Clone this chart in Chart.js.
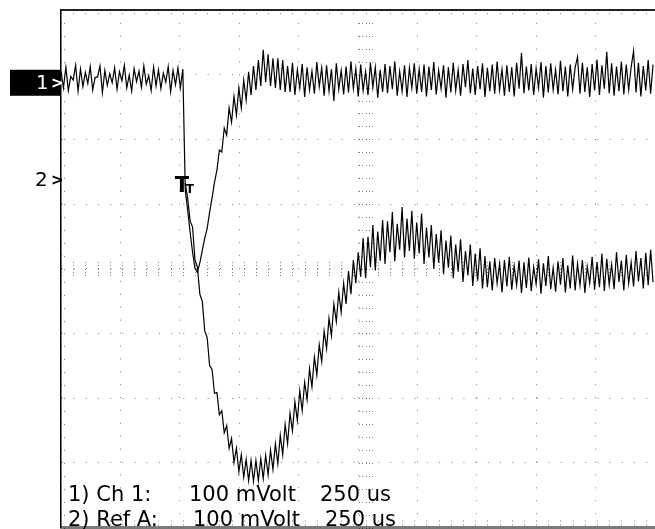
<!DOCTYPE html>
<html>
<head>
<meta charset="utf-8">
<script src="https://cdn.jsdelivr.net/npm/chart.js@4/dist/chart.umd.min.js"></script>
<style>
    html, body { margin: 0; padding: 0; background: #fff; }
    #scopeCanvas { display: block; }
</style>
</head>
<body>
<canvas id="scopeCanvas" width="655" height="529"></canvas>
<script>
// --------------------
// Data (250 us/div, 100 mV/div)
// --------------------
const sampleUs = 10;            // time between samples
const screenUs = 2438;          // visible part of the time base
const triggerUs = 500;
const triggerLevelMv = -140;    // on channel 1

// Channel 1, mV relative to its ground marker, one value per sample from the left edge
const ch1Mv = [
    18, -8, 24, -12, 10, 4, 27, -13, 21, -6,
    16, -1, 25, -11, 8, 9, 26, -15, 19, -4,
    14, 0, 23, -10, 17, 3, 27, -8, 12, -13,
    22, 2, 18, -7, 26, -2, 11, -12, 24, -5,
    20, -9, 15, 1, 25, -14, 19, -3, 23, -8,
    21,
    -166, -197, -231, -262, -287, -293, -278, -259, -240, -225,
    -200, -178, -154, -135, -104, -107, -70, -81, -39, -61,
    -21, -50, -8, -39, 4, -27, 17, -19, 26, -11,
    35, -5, 51, 1, 44, -5, 38, -8, 38, -11,
    35, -14,
    26, -14, 31, -19, 20, -8, 29, -22, 24, -11,
    18, -17, 32, -6, 23, -20, 27, -13, 21, -28,
    30, -10, 19, -18, 25, -15, 33, -9, 22, -21,
    28, -12, 17, -19, 31, -7, 24, -23, 20, -14,
    29, -16, 26, -10, 33, -20, 18, -13, 27, -22,
    23, -8, 30, -17, 21, -14, 28, -21, 25, -11,
    32, -18, 19, -9, 27, -23, 24, -15, 31, -12,
    20, -20, 29, -7, 35, -16, 22, -19, 26, -10,
    30, -22, 23, -13, 28, -17, 33, -11, 21, -20,
    27, -14, 24, -21, 31, -9, 46, -16, 25, -12,
    29, -19, 22, -8, 32, -23, 26, -15, 30, -11,
    20, -18, 34, -13, 25, -21, 28, -10, 23, 40,
    -17, 31, -14, 24, -22, 29, -12, 36, -19, 27,
    -9, 48, -16, 30, -20, 25, -13, 33, -18, 28,
    -11, 24, 49, -15, 31, -21, 26, -12, 35, -17,
    28
];

// Ref A, mV relative to its ground marker, starts at the trigger
const refAStartIndex = 51;
const refAMv = [
    -5, -29, -64, -73, -124, -135, -177, -188, -234, -244,
    -287, -293, -330, -329, -363, -357, -391, -380, -415, -400,
    -437, -415, -451, -425, -460, -432, -465, -434, -466, -434,
    -465, -431, -462, -426, -456, -418, -448, -408, -439, -395,
    -425, -378, -408, -361, -388, -343, -372, -326, -357, -313,
    -340, -292, -320, -274, -302, -255, -281, -234, -261, -214,
    -241, -192, -219, -174, -205, -160, -192, -141, -177, -124,
    -160, -112, -150, -90, -152, -88, -135, -70, -140, -80,
    -125, -62, -130, -64, -112, -50, -126, -68, -108, -42,
    -120, -60, -110, -48, -122, -66, -114, -52, -130, -74,
    -120, -70, -138, -84, -128, -78, -146, -94, -136, -86,
    -152, -100, -142, -92, -158, -110, -148, -100, -164, -114,
    -156, -106, -168,
    -118, -166, -126, -171, -121, -160, -130, -174, -124, -165,
    -119, -170, -133, -163, -125, -175, -128, -167, -120, -172,
    -135, -161, -123, -176, -129, -164, -118, -169, -136, -173,
    -126, -162, -121, -174, -132, -168, -117, -171, -130, -163,
    -124, -175, -134, -160, -119, -170, -127, -166, -114, -172,
    -122, -162, -131, -169, -112, -158, -125, -171, -116, -160,
    -128, -165, -110, -157, -121, -168, -113, -163, -108, -158
];

// Screen offsets of the two ground markers
const ch1OffsetMv = 287.5;
const refAOffsetMv = 137.5;

const infoLines = [
    ['1) Ch 1:', '100 mVolt', '250 us'],
    ['2) Ref A:', '100 mVolt', '250 us']
];

// --------------------
// Overlay plugin: graticule ticks, frame top, markers, readout
// --------------------
const scopeOverlay = {
    id: 'scopeOverlay',
    beforeDatasetsDraw(chart) {
        const { ctx, chartArea: a, scales } = chart;
        const xs = scales.x;
        const ys = scales.y;
        const cx = Math.round(xs.getPixelForValue(1250));
        const cy = Math.round(ys.getPixelForValue(0));

        ctx.save();
        ctx.fillStyle = 'rgba(0,0,0,0.5)';
        for (let t = 0; t <= screenUs; t += 50) {
            const px = Math.round(xs.getPixelForValue(t));
            [-7, -4, 0, 3, 6].forEach(d => ctx.fillRect(px, cy + d, 1, 1));
            ctx.fillRect(px, a.top + 3, 1, 1);
            ctx.fillRect(px, a.bottom - 7, 1, 1);
            ctx.fillRect(px, a.bottom - 3, 1, 1);
        }
        for (let v = -400; v <= 400; v += 20) {
            const py = Math.round(ys.getPixelForValue(v));
            [-7, -4, 0, 3, 6].forEach(d => ctx.fillRect(cx + d, py, 1, 1));
            ctx.fillRect(a.left + 3, py, 1, 1);
        }
        ctx.restore();
    },
    afterDraw(chart) {
        const { ctx, chartArea: a, scales } = chart;

        ctx.save();
        // top edge of the screen
        ctx.strokeStyle = '#222';
        ctx.lineWidth = 2;
        ctx.beginPath();
        ctx.moveTo(a.left, a.top);
        ctx.lineTo(a.right, a.top);
        ctx.stroke();

        // ground markers
        const y1 = scales.yCh1.getPixelForValue(0);
        const y2 = scales.yRefA.getPixelForValue(0);
        ctx.fillStyle = '#000';
        ctx.fillRect(10, y1 - 13, a.left - 10, 26);
        ctx.textBaseline = 'middle';
        ctx.fillStyle = '#fff';
        ctx.font = '20px "DejaVu Sans"';
        ctx.fillText('1', 36, y1 + 1);
        ctx.font = 'bold 15px "DejaVu Sans"';
        ctx.fillText('>', 51, y1 + 1);
        ctx.fillStyle = '#000';
        ctx.font = '20px "DejaVu Sans"';
        ctx.fillText('2', 35, y2 + 1);
        ctx.font = 'bold 15px "DejaVu Sans"';
        ctx.fillText('>', 51, y2 + 1);

        // trigger marker
        const tx = scales.x.getPixelForValue(triggerUs);
        const ty = scales.yCh1.getPixelForValue(triggerLevelMv);
        ctx.textBaseline = 'alphabetic';
        ctx.font = 'bold 21px "DejaVu Sans"';
        ctx.fillText('T', tx - 8, ty + 19);
        ctx.font = 'bold 12px "DejaVu Sans"';
        ctx.fillText('T', tx + 3, ty + 20);

        // readout
        ctx.font = '21px "DejaVu Sans"';
        const cols = [[68, 189, 320], [68, 193, 325]];
        const baselines = [501, 526];
        infoLines.forEach((line, r) => {
            line.forEach((txt, c) => ctx.fillText(txt, cols[r][c], baselines[r]));
        });
        ctx.restore();
    }
};

// --------------------
// Chart
// --------------------
const ch1Points = ch1Mv.map((v, i) => ({ x: i * sampleUs, y: v }));
const refAPoints = refAMv.map((v, i) => ({ x: (refAStartIndex + i) * sampleUs, y: v }));

const traceStyle = {
    borderColor: '#000',
    borderWidth: 1.2,
    pointRadius: 0,
    tension: 0,
    fill: false
};

const ctx = document.getElementById('scopeCanvas').getContext('2d');

new Chart(ctx, {
    type: 'line',
    data: {
        datasets: [
            Object.assign({ label: 'Ch 1', data: ch1Points, yAxisID: 'yCh1' }, traceStyle),
            Object.assign({ label: 'Ref A', data: refAPoints, yAxisID: 'yRefA' }, traceStyle)
        ]
    },
    options: {
        responsive: false,
        animation: false,
        events: [],
        layout: { padding: { left: 61, top: 10, right: 0, bottom: 1.5 } },
        plugins: {
            legend: { display: false },
            tooltip: { enabled: false }
        },
        scales: {
            x: {
                type: 'linear',
                min: 0,
                max: screenUs,
                ticks: { display: false, stepSize: 250, includeBounds: false },
                grid: { drawTicks: false, color: 'rgba(0,0,0,0.5)', lineWidth: 1 },
                border: { display: true, color: '#7a7a7a', width: 3, dash: [1, 11.9] }
            },
            y: {
                min: -400,
                max: 400,
                ticks: { display: false, stepSize: 100 },
                grid: { drawTicks: false, color: 'rgba(0,0,0,0.5)', lineWidth: 1 },
                border: { display: true, color: '#000', width: 1.5, dash: [1, 11.18] }
            },
            yCh1: { axis: 'y', display: false, min: -400 - ch1OffsetMv, max: 400 - ch1OffsetMv },
            yRefA: { axis: 'y', display: false, min: -400 - refAOffsetMv, max: 400 - refAOffsetMv }
        }
    },
    plugins: [scopeOverlay]
});
</script>
</body>
</html>
